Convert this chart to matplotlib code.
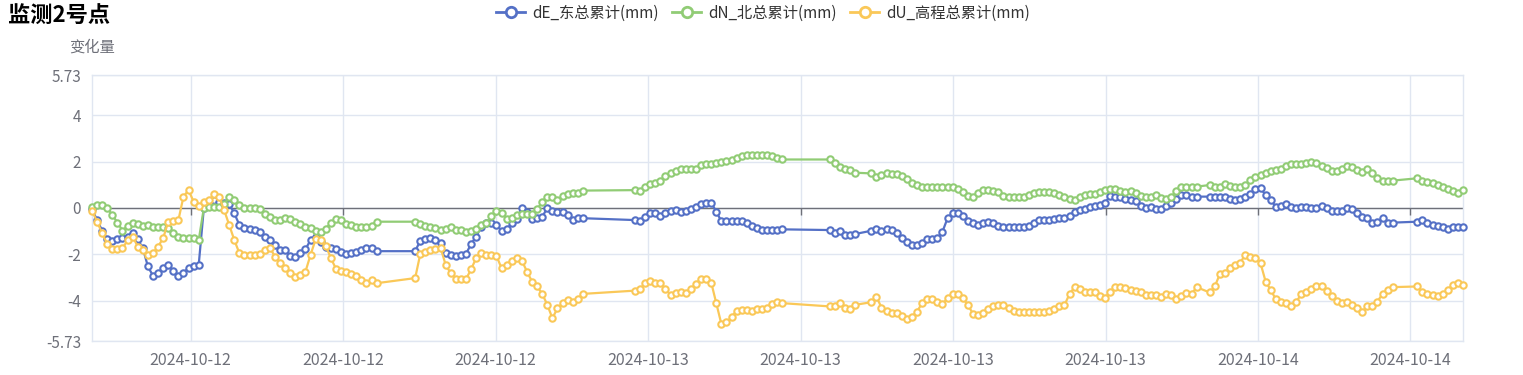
import matplotlib
matplotlib.use("Agg")
import matplotlib.pyplot as plt
import matplotlib.dates as mdates
from matplotlib.lines import Line2D
import numpy as np
import pandas as pd

# sampling runs (start time, number of 12-minute samples); the line jumps over the gaps
seg_starts = ["2024-10-12 02:07", "2024-10-12 14:50", "2024-10-12 23:29", "2024-10-13 07:09",
              "2024-10-13 08:47", "2024-10-13 22:06", "2024-10-14 06:16"]
seg_counts = [57, 34, 30, 6, 65, 37, 10]

dE = [-0.06, -0.52, -0.98, -1.33, -1.43, -1.33, -1.28, -1.23, -1.06, -1.35,
      -1.73, -2.52, -2.92, -2.8, -2.59, -2.44, -2.71, -2.92, -2.78, -2.59,
      -2.49, -2.44, -0.02, 0.27, 0.33, 0.27, 0.2, 0.17, -0.23, -0.73,
      -0.86, -0.9, -0.95, -1.05, -1.23, -1.36, -1.59, -1.81, -1.81, -2.06,
      -2.12, -1.92, -1.78, -1.38, -1.26, -1.48, -1.69, -1.74, -1.75, -1.89,
      -1.99, -1.96, -1.91, -1.81, -1.74, -1.74, -1.86,
      -1.86, -1.41, -1.35, -1.31, -1.38, -1.52, -1.95, -2.02, -2.06, -2.04,
      -1.98, -1.55, -1.23, -0.8, -0.66, -0.63, -0.73, -0.98, -0.92, -0.66,
      -0.49, -0.01, -0.16, -0.49, -0.43, -0.37, -0.01, -0.11, -0.16, -0.16,
      -0.3, -0.52, -0.44, -0.44,
      -0.52, -0.55, -0.4, -0.23, -0.2, -0.34, -0.21, -0.11, -0.1, -0.17,
      -0.11, -0.04, 0.06, 0.19, 0.23, 0.23, -0.16, -0.57, -0.57, -0.54,
      -0.54, -0.54, -0.63, -0.77, -0.87, -0.95, -0.95, -0.95, -0.95, -0.92,
      -0.95, -1.06, -0.97, -1.16, -1.16, -1.12,
      -0.98, -0.92, -0.99, -0.92, -0.95, -1.09, -1.31, -1.46, -1.59, -1.61,
      -1.52, -1.33, -1.33, -1.3, -1.02, -0.44, -0.23, -0.2, -0.34, -0.56,
      -0.66, -0.73, -0.63, -0.59, -0.65, -0.77, -0.83, -0.83, -0.83, -0.83,
      -0.83, -0.77, -0.63, -0.52, -0.52, -0.52, -0.49, -0.43, -0.42, -0.33,
      -0.16, -0.09, -0.03, 0.04, 0.1, 0.14, 0.23, 0.52, 0.49, 0.46,
      0.4, 0.36, 0.29, 0.09, 0.0, 0.03, -0.04, -0.03, 0.09, 0.22,
      0.37, 0.56, 0.55, 0.49, 0.49,
      0.49, 0.49, 0.49, 0.46, 0.37, 0.34, 0.37, 0.46, 0.6, 0.83,
      0.85, 0.56, 0.34, 0.06, 0.09, 0.17, 0.06, -0.01, 0.06, 0.06,
      -0.01, 0.01, 0.09, -0.01, -0.11, -0.11, -0.11, -0.01, -0.06, -0.2,
      -0.4, -0.44, -0.63, -0.59, -0.44, -0.63, -0.63,
      -0.59, -0.52, -0.63, -0.73, -0.77, -0.83, -0.92, -0.83, -0.83, -0.83]

dN = [0.06, 0.13, 0.13, -0.01, -0.3, -0.63, -0.97, -0.77, -0.63, -0.69,
      -0.77, -0.75, -0.83, -0.83, -0.83, -0.87, -1.09, -1.26, -1.3, -1.3,
      -1.3, -1.38, -0.01, 0.06, 0.06, 0.06, 0.17, 0.46, 0.34, 0.11,
      -0.01, -0.01, -0.01, -0.06, -0.26, -0.4, -0.52, -0.5, -0.42, -0.49,
      -0.59, -0.69, -0.82, -0.87, -0.97, -1.05, -0.9, -0.63, -0.49, -0.52,
      -0.69, -0.75, -0.83, -0.83, -0.83, -0.76, -0.59,
      -0.59, -0.69, -0.77, -0.83, -0.87, -0.95, -0.92, -0.83, -0.95, -0.96,
      -1.03, -0.98, -0.92, -0.75, -0.65, -0.34, -0.11, -0.2, -0.46, -0.44,
      -0.32, -0.26, -0.27, -0.26, -0.06, 0.27, 0.49, 0.46, 0.34, 0.52,
      0.62, 0.66, 0.66, 0.75,
      0.77, 0.75, 0.92, 1.02, 1.09, 1.18, 1.39, 1.52, 1.61, 1.66,
      1.66, 1.66, 1.69, 1.84, 1.89, 1.89, 1.92, 1.97, 2.02, 2.08,
      2.15, 2.22, 2.28, 2.28, 2.28, 2.28, 2.28, 2.22, 2.15, 2.09,
      2.09, 1.95, 1.75, 1.69, 1.63, 1.52,
      1.49, 1.32, 1.42, 1.49, 1.46, 1.45, 1.38, 1.23, 1.09, 0.99,
      0.89, 0.89, 0.89, 0.89, 0.89, 0.89, 0.89, 0.82, 0.67, 0.52,
      0.46, 0.63, 0.77, 0.77, 0.73, 0.67, 0.52, 0.46, 0.46, 0.46,
      0.46, 0.55, 0.63, 0.7, 0.7, 0.69, 0.66, 0.57, 0.49, 0.39,
      0.34, 0.49, 0.56, 0.6, 0.62, 0.69, 0.77, 0.8, 0.8, 0.75,
      0.7, 0.73, 0.66, 0.53, 0.46, 0.46, 0.55, 0.43, 0.4, 0.46,
      0.75, 0.89, 0.92, 0.92, 0.92,
      0.99, 0.92, 0.92, 1.02, 0.95, 0.89, 0.89, 0.99, 1.2, 1.35,
      1.43, 1.52, 1.61, 1.63, 1.7, 1.81, 1.89, 1.89, 1.89, 1.92,
      1.98, 1.92, 1.81, 1.73, 1.59, 1.61, 1.7, 1.79, 1.75, 1.63,
      1.56, 1.69, 1.52, 1.3, 1.18, 1.18, 1.18,
      1.28, 1.18, 1.13, 1.06, 0.99, 0.92, 0.8, 0.75, 0.66, 0.77]

dU = [-0.11, -0.59, -1.09, -1.55, -1.78, -1.75, -1.73, -1.4, -1.23, -1.66,
      -1.82, -2.02, -1.95, -1.66, -1.3, -0.59, -0.54, -0.52, 0.49, 0.77,
      0.27, 0.09, 0.27, 0.33, 0.59, 0.49, -0.09, -0.73, -1.38, -1.95,
      -2.02, -2.02, -2.02, -1.98, -1.81, -1.72, -2.09, -2.35, -2.59, -2.81,
      -2.98, -2.9, -2.74, -2.02, -1.35, -1.38, -1.63, -2.16, -2.62, -2.71,
      -2.74, -2.85, -2.95, -3.1, -3.24, -3.1, -3.24,
      -3.02, -1.99, -1.88, -1.81, -1.76, -1.71, -2.45, -2.81, -3.04, -3.07,
      -3.07, -2.64, -2.16, -1.95, -2.02, -2.02, -2.06, -2.6, -2.45, -2.27,
      -2.17, -2.27, -2.74, -3.17, -3.38, -3.7, -4.17, -4.75, -4.32, -4.1,
      -3.96, -4.07, -3.93, -3.7,
      -3.56, -3.5, -3.24, -3.15, -3.21, -3.21, -3.5, -3.74, -3.67, -3.64,
      -3.67, -3.5, -3.27, -3.05, -3.07, -3.21, -4.1, -5.0, -4.93, -4.7,
      -4.42, -4.39, -4.39, -4.42, -4.36, -4.36, -4.32, -4.13, -4.04, -4.1,
      -4.24, -4.24, -4.1, -4.32, -4.36, -4.17,
      -4.06, -3.82, -4.29, -4.44, -4.53, -4.53, -4.67, -4.79, -4.7, -4.46,
      -4.1, -3.94, -3.93, -4.07, -4.13, -3.89, -3.7, -3.7, -3.89, -4.17,
      -4.56, -4.63, -4.53, -4.36, -4.22, -4.16, -4.19, -4.32, -4.42, -4.46,
      -4.46, -4.46, -4.46, -4.46, -4.46, -4.44, -4.36, -4.22, -4.19, -3.7,
      -3.41, -3.48, -3.6, -3.6, -3.64, -3.81, -3.87, -3.6, -3.41, -3.41,
      -3.44, -3.54, -3.56, -3.64, -3.74, -3.74, -3.76, -3.83, -3.7, -3.73,
      -3.9, -3.79, -3.67, -3.71, -3.41,
      -3.64, -3.38, -2.84, -2.78, -2.6, -2.44, -2.35, -2.02, -2.09, -2.15,
      -2.38, -3.17, -3.53, -3.93, -4.07, -4.1, -4.24, -4.07, -3.7, -3.6,
      -3.48, -3.38, -3.38, -3.56, -3.81, -4.0, -4.1, -4.07, -4.17, -4.32,
      -4.46, -4.24, -4.24, -4.03, -3.7, -3.53, -3.41,
      -3.38, -3.6, -3.7, -3.74, -3.81, -3.7, -3.53, -3.31, -3.21, -3.31]

series_names = ["dE_东总累计(mm)", "dN_北总累计(mm)", "dU_高程总累计(mm)"]
colors = ["#5470c6", "#91cc75", "#fac858"]
y_ticks = [-5.73, -4, -2, 0, 2, 4, 5.73]
y_ticklabels = ["-5.73", "-4", "-2", "0", "2", "4", "5.73"]

plt.rcParams["font.family"] = ["Noto Sans CJK SC", "DejaVu Sans"]

times = pd.DatetimeIndex(np.concatenate(
    [pd.date_range(s, periods=n, freq="12min").values for s, n in zip(seg_starts, seg_counts)]))

W, H = 1523, 375
fig = plt.figure(figsize=(W / 100, H / 100), dpi=100)
ax = fig.add_axes([92 / W, 1 - 341 / H, (1463 - 92) / W, (341 - 75) / H])

for i, (vals, c) in enumerate(zip([dE, dN, dU], colors)):
    ax.plot(times, vals, color=c, lw=1.6, marker="o", ms=4.6, mfc="white",
            mec=c, mew=1.5, zorder=3 + i, clip_on=False)

ax.set_xlim(times[0], times[-1])
ax.set_ylim(-5.73, 5.73)
ax.set_yticks(y_ticks)
ax.set_yticklabels(y_ticklabels)
ax.xaxis.set_major_locator(mdates.HourLocator(byhour=[0, 6, 12, 18]))
ax.xaxis.set_major_formatter(mdates.DateFormatter("%Y-%m-%d"))

ax.grid(True, color="#E0E6F1", lw=1)
ax.set_axisbelow(True)
for sp in ax.spines.values():
    sp.set_color("#E0E6F1")
    sp.set_linewidth(1)
ax.tick_params(axis="both", length=0, labelcolor="#6E7079")
ax.tick_params(axis="x", pad=8, labelsize=11.5)
ax.tick_params(axis="y", pad=8, labelsize=11)

# axis line on zero with small ticks
ax.axhline(0, color="#6E7079", lw=1, zorder=2)
xt = [t for t in ax.get_xticks() if ax.get_xlim()[0] <= t <= ax.get_xlim()[1]]
ax.plot(xt, np.zeros(len(xt)), linestyle="none", marker=3, ms=5, mew=1,
        color="#6E7079", zorder=2)

fig.text(8 / W, 1 - 16 / H, "监测2号点", fontsize=16, fontweight="bold",
         va="center", ha="left", color="black")
ax.text(0, 1.105, "变化量", transform=ax.transAxes, ha="center", va="center",
        color="#6E7079", fontsize=11)

handles = [Line2D([], [], color=c, lw=2, marker="o", ms=7.5, mfc="white", mec=c, mew=2)
           for c in colors]
fig.legend(handles, series_names, loc="center", bbox_to_anchor=(763 / W, 1 - 13 / H),
           ncol=3, frameon=False, fontsize=11, handlelength=1.9, handletextpad=0.45,
           columnspacing=0.9, labelcolor="#333333")

fig.savefig("out.png", dpi=100)
